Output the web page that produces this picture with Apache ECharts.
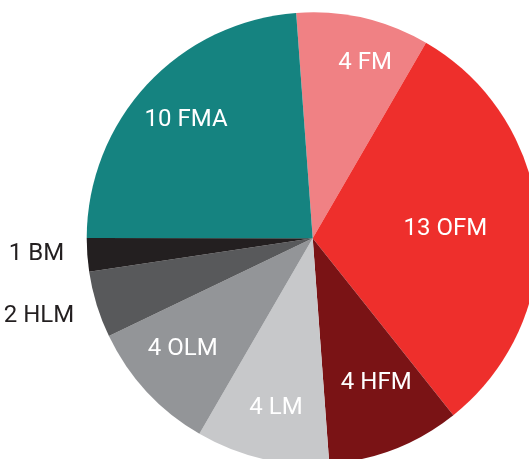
<!DOCTYPE html>
<html>
<head>
<meta charset="utf-8">
<script src="https://cdn.jsdelivr.net/npm/echarts@6/dist/echarts.min.js"></script>
<style>
html,body{margin:0;padding:0;background:#fff;}
#chart{width:529px;height:459px;}
</style>
</head>
<body>
<div id="chart"></div>
<script>
const categories = ['FM', 'OFM', 'HFM', 'LM', 'OLM', 'HLM', 'BM', 'FMA'];
const values = [4, 13, 4, 4, 4, 2, 1, 10];
const colors = ['#f08184', '#ee2f2c', '#7a1315', '#c7c8ca', '#939598', '#58595b', '#231f20', '#158380'];

const CENTER = [312.7, 238.3];
const R = 226;
const START = 94.2;
const FONT = 'Roboto, "Liberation Sans", sans-serif';
const FS = 24;

// small label nudges (layout only)
const nudge = {FM: [11, 5], OLM: [-3, -7], HFM: [6, -2], HLM: [-6, -4], BM: [3, -5], LM: [2, 1], OFM: [0, 0], FMA: [0, 0]};

const chart = echarts.init(document.getElementById('chart'), null, {renderer: 'canvas'});

const mainSeries = {
  type: 'pie',
  center: CENTER,
  radius: [0, R],
  startAngle: START,
  clockwise: true,
  avoidLabelOverlap: false,
  silent: true,
  label: {show: false},
  labelLine: {show: false},
  emphasis: {disabled: true},
  itemStyle: {borderWidth: 0},
  data: categories.map((c, i) => ({name: c, value: values[i], itemStyle: {color: colors[i]}}))
};

function labelRing(r0, r1, names, textColor) {
  return {
    type: 'pie',
    center: CENTER,
    radius: [r0, r1],
    startAngle: START,
    clockwise: true,
    avoidLabelOverlap: false,
    silent: true,
    z: 5,
    emphasis: {disabled: true},
    labelLine: {show: false},
    itemStyle: {color: 'rgba(0,0,0,0)', borderWidth: 0},
    label: {show: false},
    labelLayout: function (p) {
      const n = nudge[categories[p.dataIndex]] || [0, 0];
      return {dx: n[0], dy: n[1]};
    },
    data: categories.map((c, i) => ({
      name: c,
      value: values[i],
      label: {
        show: names.indexOf(c) >= 0,
        position: 'inside',
        formatter: '{c} {b}',
        color: textColor,
        fontFamily: FONT,
        fontSize: FS,
        fontWeight: 'normal'
      }
    }))
  };
}

chart.setOption({
  backgroundColor: '#ffffff',
  animation: false,
  series: [
    mainSeries,
    labelRing(114, 226, ['FMA', 'OLM', 'LM'], '#ffffff'),
    labelRing(138, 226, ['FM'], '#ffffff'),
    labelRing(84, 226, ['HFM'], '#ffffff'),
    labelRing(34, 226, ['OFM'], '#ffffff'),
    labelRing(226, 328, ['HLM', 'BM'], '#231f20')
  ]
});
</script>
</body>
</html>
